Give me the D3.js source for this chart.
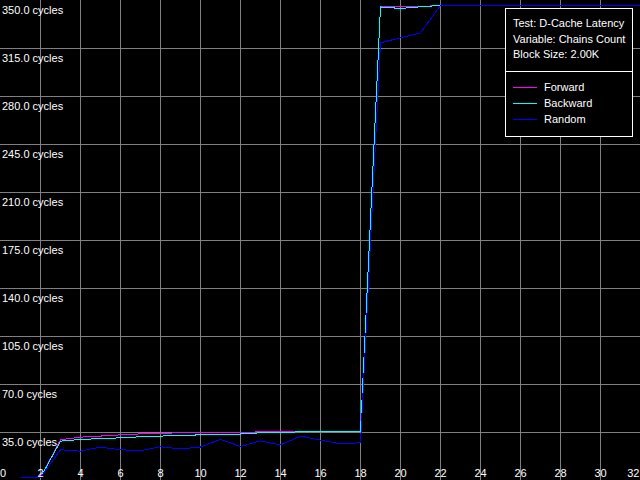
<!DOCTYPE html>
<html><head><meta charset="utf-8">
<script src="https://cdn.jsdelivr.net/npm/d3@7"></script>
<style>html,body{margin:0;padding:0;background:#000;overflow:hidden}</style>
</head><body><svg id="c" width="640" height="480"></svg>
<script>
const chains = [1,2,3,4,5,6,7,8,9,10,11,12,13,14,15,16,17,18,19,20,21,22,23,24,25,26,27,28,29,30,31,32];
const forward = [2.2,2.2,29.7,31.6,32.4,33.3,34.0,34.4,34.8,34.9,35.0,35.0,35.5,35.5,35.5,35.5,35.5,35.5,345.4,345.4,345.6,346.4,346.4,346.4,346.4,346.4,346.4,346.4,346.4,346.4,346.4,346.4];
const backward = [2.2,2.2,28.7,29.9,30.6,31.1,31.9,32.4,32.8,33.3,33.5,33.9,34.8,35.0,35.5,35.5,35.5,35.5,345.3,344.2,345.4,346.4,346.4,346.4,346.4,346.4,346.4,346.4,346.4,346.4,346.4,346.4];
const random = [2.2,2.2,22.4,21.4,24.3,22.4,21.8,24.6,23.0,24.4,30.0,24.8,28.9,26.0,32.3,29.4,26.8,27.5,319.2,322.8,326.4,346.4,346.4,346.4,346.4,346.4,346.4,346.4,346.4,346.4,346.4,346.4];
const xTickValues = [0,2,4,6,8,10,12,14,16,18,20,22,24,26,28,30,32];
const yTickValues = [35,70,105,140,175,210,245,280,315,350];
const yTickLabels = ["35.0 cycles","70.0 cycles","105.0 cycles","140.0 cycles","175.0 cycles","210.0 cycles","245.0 cycles","280.0 cycles","315.0 cycles","350.0 cycles"];
const infoLines = ["Test: D-Cache Latency","Variable: Chains Count","Block Size: 2.00K"];
const seriesNames = ["Forward","Backward","Random"];
const seriesColors = ["#ff00ff","#00ffff","#0000ff"];

const W = 640, H = 480;
const FONT = "'Liberation Sans', Arial, sans-serif";
const svg = d3.select("#c");
svg.append("rect").attr("width", W).attr("height", H).attr("fill", "#000");

const x = d3.scaleLinear().domain([0, 32]).range([0, W]);
const y = d3.scaleLinear().domain([0, 350]).range([H, 0]);

// grid
const gx = svg.append("g").attr("transform", `translate(0,${H})`)
  .call(d3.axisBottom(x).tickValues(xTickValues.slice(1, -1)).tickSize(-H).tickFormat(""));
gx.select(".domain").remove();
gx.selectAll("line").attr("stroke", "#808080").attr("shape-rendering", "crispEdges");

const gy = svg.append("g")
  .call(d3.axisLeft(y).tickValues(yTickValues.slice(0, -1)).tickSize(-W).tickFormat(""));
gy.select(".domain").remove();
gy.selectAll("line").attr("stroke", "#808080").attr("shape-rendering", "crispEdges");

// lines
const series = [forward, backward, random];
const line = d3.line().x((d, i) => x(chains[i]) + 0.5).y(d => y(d) + 0.5);
series.forEach((s, k) => {
  svg.append("path").datum(s).attr("d", line)
    .attr("fill", "none").attr("stroke", seriesColors[k]).attr("stroke-width", 1)
    .attr("shape-rendering", "crispEdges");
});

// y labels
const ya = svg.append("g")
  .call(d3.axisRight(y).tickValues(yTickValues).tickSize(0).tickFormat((d, i) => yTickLabels[i]));
ya.select(".domain").remove();
ya.selectAll("text").attr("x", 2).attr("dy", 0).attr("y", 13)
  .attr("fill", "#fff").attr("font-family", FONT).attr("font-size", 11).attr("text-anchor", "start");

// x labels
const xa = svg.append("g")
  .call(d3.axisBottom(x).tickValues(xTickValues).tickSize(0));
xa.select(".domain").remove();
xa.selectAll("text").attr("y", 477).attr("dy", 0)
  .attr("fill", "#fff").attr("font-family", FONT).attr("font-size", 11)
  .attr("text-anchor", (d, i) => i === 0 ? "start" : (i === xTickValues.length - 1 ? "end" : "middle"))
  .attr("x", (d, i) => i === 0 ? -0.5 : (i === xTickValues.length - 1 ? -1 : 0));

// legend
const lg = svg.append("g");
lg.append("rect").attr("x", 505.5).attr("y", 8.5).attr("width", 127).attr("height", 127.5)
  .attr("fill", "#000").attr("stroke", "#fff").attr("shape-rendering", "crispEdges");
lg.append("rect").attr("x", 505).attr("y", 71).attr("width", 128).attr("height", 1)
  .attr("fill", "#fff").attr("shape-rendering", "crispEdges");
infoLines.forEach((t, i) => {
  lg.append("text").attr("x", 513).attr("y", 27 + i * 15.7).text(t)
    .attr("fill", "#fff").attr("font-family", FONT).attr("font-size", 11);
});
seriesNames.forEach((n, i) => {
  lg.append("rect").attr("x", 513).attr("y", 87 + i * 16).attr("width", 24).attr("height", 1)
    .attr("fill", seriesColors[i]).attr("shape-rendering", "crispEdges");
  lg.append("text").attr("x", 544).attr("y", 91 + i * 16).text(n)
    .attr("fill", "#fff").attr("font-family", FONT).attr("font-size", 11);
});
</script>
</body></html>
